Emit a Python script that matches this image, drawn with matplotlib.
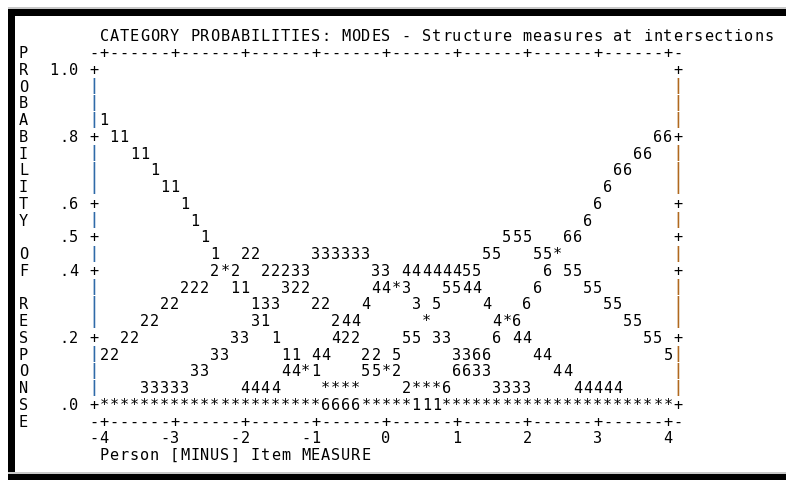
import matplotlib
matplotlib.use("Agg")
import matplotlib.pyplot as plt
from matplotlib.patches import Rectangle

TITLE = "CATEGORY PROBABILITIES: MODES - Structure measures at intersections"
X_TITLE = "Person [MINUS] Item MEASURE"
Y_TITLE = "PROBABILITY OF RESPONSE"  # written downwards, one letter per text row

# probability axis (text rows step .05)
Y_TICKS = [1.0, 0.8, 0.6, 0.5, 0.4, 0.2, 0.0]
Y_TICK_LABELS = ["1.0", ".8", ".6", ".5", ".4", ".2", ".0"]

# measure axis (7 text columns per logit)
X_TICKS = [-4, -3, -2, -1, 0, 1, 2, 3, 4]
X_TICK_LABELS = ["-4", "-3", "-2", "-1", "0", "1", "2", "3", "4"]

# category curves as printed: text row -> [(first column, characters)]
CURVE_TEXT = {
    4: [(1, "1")],
    5: [(2, "11"), (56, "66")],
    6: [(4, "11"), (54, "66")],
    7: [(6, "1"), (52, "66")],
    8: [(7, "11"), (51, "6")],
    9: [(9, "1"), (50, "6")],
    10: [(10, "1"), (49, "6")],
    11: [(11, "1"), (41, "555"), (47, "66")],
    12: [(12, "1"), (15, "22"), (22, "333333"), (39, "55"), (44, "55*")],
    13: [(12, "2*2"), (17, "22233"), (28, "33"), (31, "44444455"), (45, "6"), (47, "55")],
    14: [(9, "222"), (14, "11"), (19, "322"), (28, "44*3"), (35, "5544"), (44, "6"), (49, "55")],
    15: [(7, "22"), (16, "133"), (22, "22"), (27, "4"), (32, "3 5"), (39, "4"), (43, "6"), (51, "55")],
    16: [(5, "22"), (16, "31"), (24, "244"), (33, "*"), (40, "4*6"), (53, "55")],
    17: [(3, "22"), (14, "33"), (18, "1"), (24, "422"), (31, "55 33"), (40, "6 44"), (55, "55")],
    18: [(1, "22"), (12, "33"), (19, "11 44"), (27, "22 5"), (36, "3366"), (44, "44"), (57, "5")],
    19: [(10, "33"), (19, "44*1"), (27, "55*2"), (36, "6633"), (46, "44")],
    20: [(5, "33333"), (15, "4444"), (23, "****"), (31, "2***6"), (40, "3333"), (48, "44444")],
    21: [(1, "**********************6666*****111***********************")],
}

# text grid geometry (pixels of the 786x480 picture)
W, H = 786, 480
COL_W, ROW_H = 10.07, 16.75
COL0_X, ROW0_Y = 94.0, 52.5
FONT = "DejaVu Sans Mono"
SIZE = 11
BAR_SIZE = 10.5
BASE = 0.33          # baseline below row centre, in rows
LEFT_BAR = "#2f6aa8"
RIGHT_BAR = "#b0691f"

N_COLS = 57          # data columns 1..57, axes at 0 and 58
TOP_ROW, ZERO_ROW = 1, 21


def x_to_col(v):
    return 1 + 7 * (v - X_TICKS[0])


def p_to_row(p):
    return TOP_ROW + round((1.0 - p) * (ZERO_ROW - TOP_ROW))


def put(ax, col, row, s, color="black", size=SIZE):
    for i, ch in enumerate(s):
        if ch == " ":
            continue
        ax.text(col + i, row + BASE, ch, ha="center", va="baseline",
                family=FONT, fontsize=size, color=color)


def bar(ax, col, row, color):
    # axis stroke, a little shorter than the row so the rule looks broken
    ax.text(col, row, "|", ha="center", va="center", family=FONT,
            fontsize=BAR_SIZE, fontweight="bold", color=color)


def frame(fig):
    def rect(x0, y0, x1, y1, color):
        fig.add_artist(Rectangle((x0 / W, 1 - y1 / H), (x1 - x0) / W, (y1 - y0) / H,
                                 transform=fig.transFigure, color=color, lw=0))
    rect(8, 7, W, 9, "#c8c8c8")
    rect(8, 9, W, 16, "black")
    rect(8, 9, 15, H, "black")
    rect(8, 472, W, 474, "#c8c8c8")
    rect(8, 474, W, H, "black")


def main():
    fig = plt.figure(figsize=(W / 100, H / 100), dpi=100)
    fig.patch.set_facecolor("white")
    ax = fig.add_axes([0, 0, 1, 1])
    ax.set_axis_off()
    ax.set_xlim(-COL0_X / COL_W, (W - COL0_X) / COL_W)
    ax.set_ylim((H - ROW0_Y) / ROW_H, -ROW0_Y / ROW_H)

    frame(fig)

    put(ax, 1, -1, TITLE)

    tick_cols = [x_to_col(v) for v in X_TICKS]
    border = "-" + "".join("+" if c in tick_cols else "-"
                           for c in range(1, N_COLS + 1)) + "-"
    put(ax, 0, TOP_ROW - 1, border)
    put(ax, 0, ZERO_ROW + 1, border)

    tick_rows = [p_to_row(p) for p in Y_TICKS]
    for row in range(TOP_ROW, ZERO_ROW + 1):
        if row in tick_rows:
            put(ax, 0, row, "+")
            put(ax, N_COLS + 1, row, "+")
        else:
            bar(ax, 0, row, LEFT_BAR)
            bar(ax, N_COLS + 1, row, RIGHT_BAR)

    for p, lab in zip(Y_TICKS, Y_TICK_LABELS):
        put(ax, -1 - len(lab), p_to_row(p), lab)

    for i, ch in enumerate(Y_TITLE):
        put(ax, -7, TOP_ROW - 1 + i, ch)

    for row, segs in CURVE_TEXT.items():
        for col, s in segs:
            put(ax, col, row, s)

    for v, lab in zip(X_TICKS, X_TICK_LABELS):
        put(ax, x_to_col(v) - len(lab) + 1, ZERO_ROW + 2, lab)

    put(ax, 1, ZERO_ROW + 3, X_TITLE)

    fig.savefig("out.png", dpi=100, facecolor="white")
    plt.close(fig)


if __name__ == "__main__":
    main()
